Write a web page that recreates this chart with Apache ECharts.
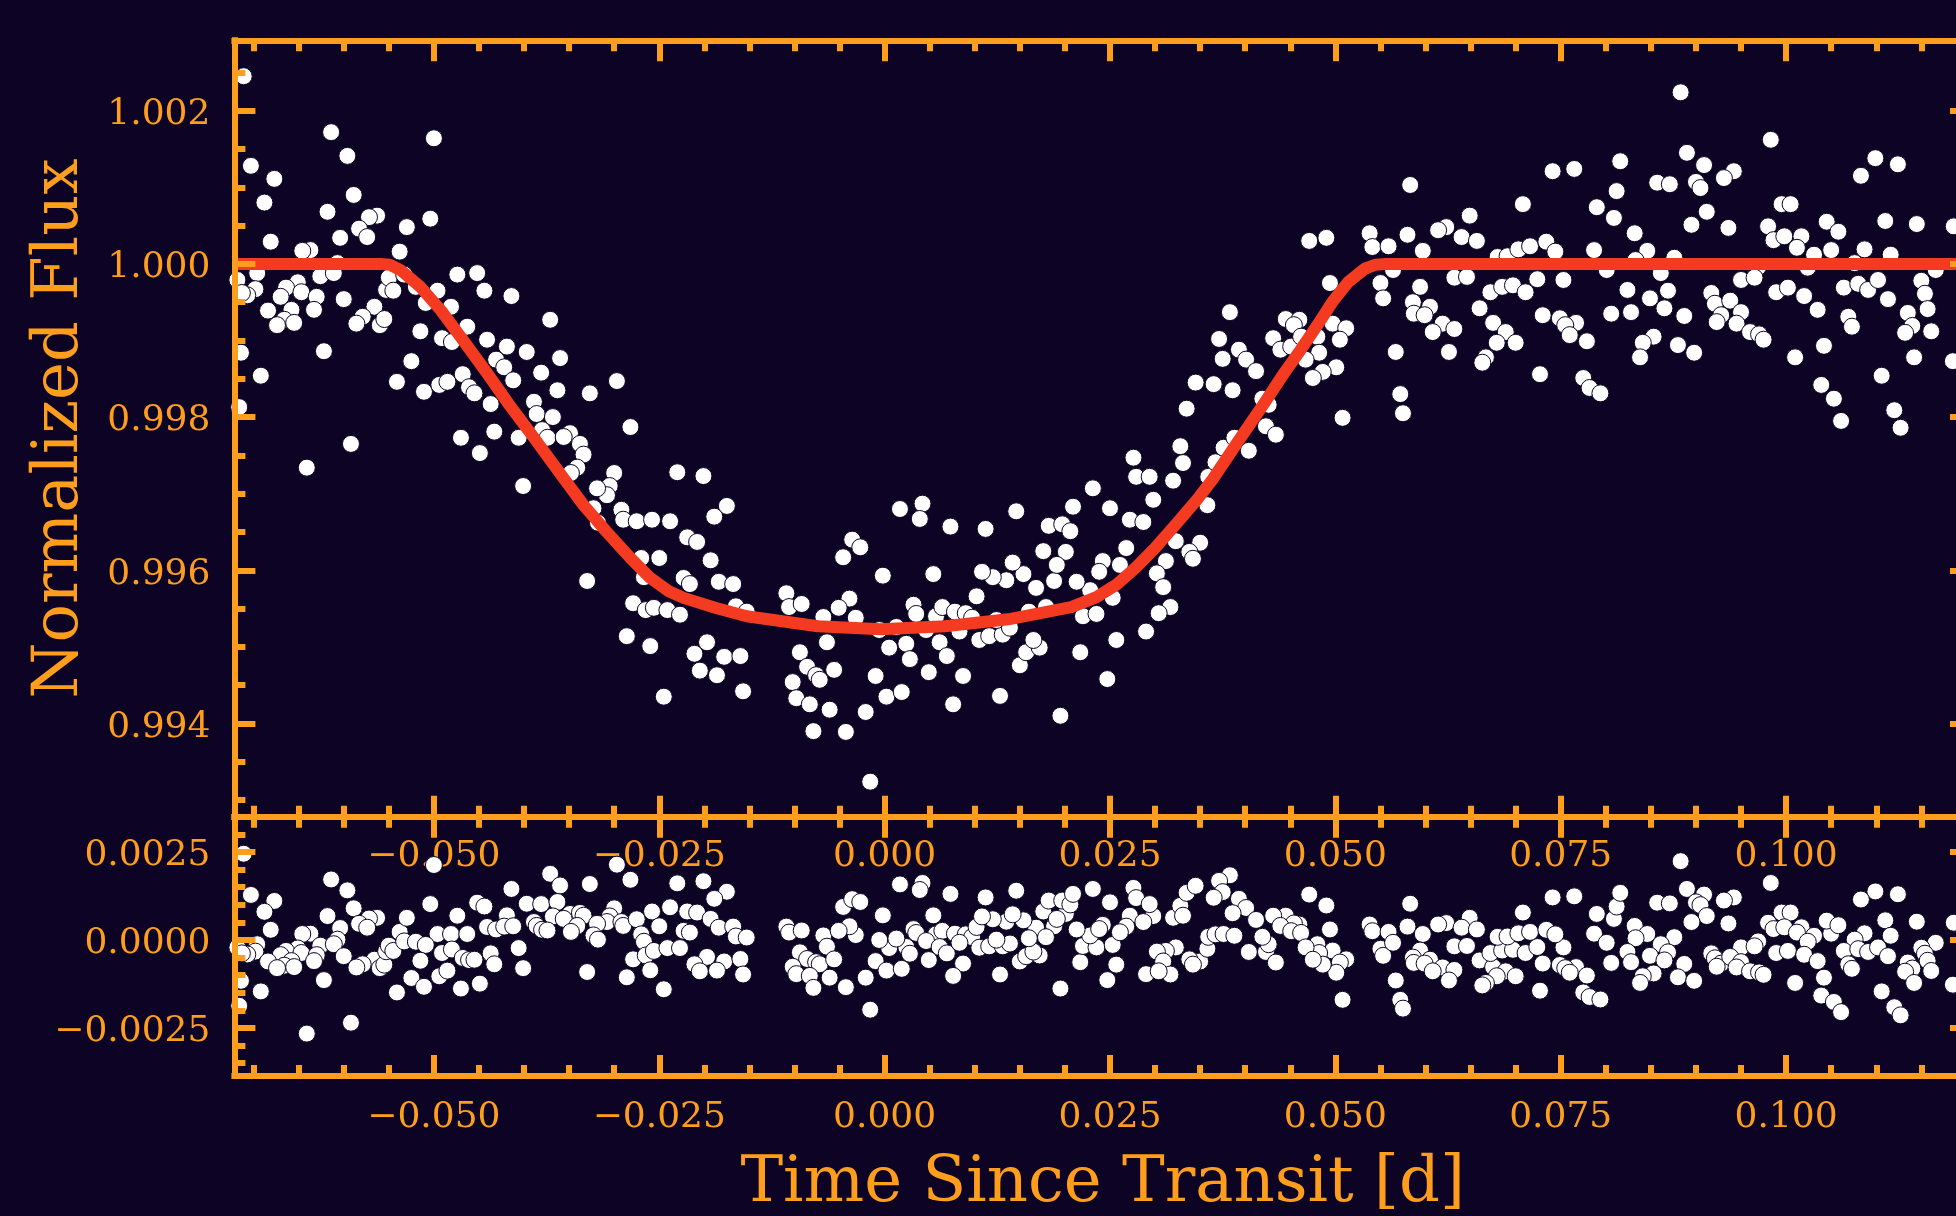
<!DOCTYPE html>
<html><head><meta charset="utf-8">
<style>html,body{margin:0;padding:0;background:#0d0425;overflow:hidden}#c{width:1956px;height:1216px}</style>
<script src="https://cdn.jsdelivr.net/npm/echarts@6/dist/echarts.min.js"></script>
</head><body><div id="c"></div>
<script>
const times=[-.0711,-.0703,-.0677,-.0688,-.0681,-.0614,-.0596,-.0589,-.0618,-.0563,-.0572,-.0583,-.0574,-.0604,-.0637,-.0646,-.0607,-.0696,-.0718,-.0698,-.0707,-.0713,-.0651,-.0664,-.0670,-.0647,-.0626,-.0611,-.0630,-.0633,-.0600,-.0684,-.0658,-.0666,-.0674,-.0655,-.0566,-.0579,-.0586,-.0714,-.0692,-.0622,-.0716,-.0592,-.0641,-.0560,
-.0555,-.0553,-.0550,-.0545,-.0538,-.0533,-.0530,-.0520,-.0504,-.0500,-.0496,-.0474,-.0452,-.0444,-.0414,-.0509,-.0481,-.0463,-.0515,-.0491,-.0480,-.0371,-.0441,-.0419,-.0397,-.0360,-.0431,-.0422,-.0412,-.0381,-.0363,-.0525,-.0541,-.0511,-.0494,-.0485,-.0468,-.0461,-.0455,-.0437,-.0327,-.0297,-.0389,-.0386,-.0368,-.0282,-.0470,-.0433,-.0406,-.0449,-.0380,-.0374,-.0349,-.0356,-.0338,-.0334,-.0341,-.0348,-.0401,-.0300,-.0305,-.0308,-.0319,-.0323,-.0318,-.0292,-.0290,-.0275,-.0258,-.0270,-.0250,-.0267,-.0330,-.0279,-.0265,-.0256,-.0286,-.0260,
-.0230,-.0201,-.0175,-.0189,-.0238,-.0219,-.0208,-.0193,-.0223,-.0216,-.0184,-.0168,-.0241,-.0227,-.0165,-.0153,-.0197,-.0211,-.0178,-.0160,-.0205,-.0186,-.0245,-.0157,-.0109,-.0106,-.0092,-.0068,-.0032,-.0064,-.0094,-.0086,-.0076,-.0072,-.0056,-.0102,-.0098,-.0083,-.0061,-.0079,-.0043,-.0021,-.0016,-.0046,-.0036,-.0027,-.0039,-.0051,-.0002,.0017,.0042,.0039,.0073,.0054,.0112,.0146,-.0010,.0002,.0019,.0005,.0024,.0028,-.0006,.0013,.0032,.0035,.0057,.0064,.0078,.0090,.0097,.0102,.0046,.0061,.0069,.0049,.0087,.0076,.0083,.0105,.0116,.0131,.0139,.0124,.0128,.0150,.0157,.0172,.0165,.0195,.0217,.0247,.0257,.0290,.0220,.0235,.0253,.0228,.0213,.0188,.0168,.0160,.0179,.0135,.0120,.0108,.0154,.0142,.0176,.0201,.0191,.0182,.0197,.0206,.0209,.0250,.0231,.0298,.0276,.0279,.0294,.0320,.0272,.0287,.0268,.0242,.0238,.0261,.0323,.0350,.0338,.0342,.0312,.0302,.0309,.0317,.0304,.0328,.0331,.0358,.0359,.0367,.0376,.0388,.0404,.0335,.0423,.0434,.0426,.0383,.0371,.0375,.0393,.0401,.0412,.0345,.0365,.0386,.0419,.0445,.0460,.0454,.0431,.0439,.0451,.0462,.0471,.0490,.0494,.0497,.0512,.0480,.0505,.0482,.0467,.0501,.0486,.0475,.0508,
.0538,.0541,.0559,.0580,.0597,.0583,.0550,.0553,.0564,.0567,.0572,.0575,.0594,.0586,.0605,.0587,.0599,.0619,.0632,.0608,.0626,.0623,.0614,.0649,.0640,.0657,.0632,.0646,.0660,.0675,.0689,.0700,.0679,.0667,.0663,.0672,.0685,.0697,.0711,.0724,.0753,.0680,.0691,.0703,.0716,.0734,.0744,.0708,.0741,.0765,.0787,.0790,.0809,.0812,.0816,.0832,.0846,.0833,.0876,.0801,.0861,.0730,.0749,.0767,.0755,.0760,.0779,.0727,.0775,.0782,.0794,.0824,.0849,.0869,.0865,.0887,.0828,.0806,.0853,.0841,.0838,.0880,.0898,.0883,.0890,.0909,.0942,.0931,.0857,.0871,.0900,.0905,.0912,.0895,.0936,.0983,.0995,.1005,.0980,.0986,.0998,.1017,.1012,.1031,.1050,.1045,.1058,.1110,.1145,.1186,.1087,.1116,.1099,.1124,.1083,.0969,.1024,.1076,.1166,.0950,.0965,.0989,.1002,.1020,.1035,.0917,.0921,.0928,.0938,.0950,.0945,.0923,.0960,.0970,.0975,.1010,.1042,.1064,.1080,.1091,.1102,.1113,.1069,.1073,.1150,.1154,.1157,.1135,.1140,.1132,.1161,.1142,.1185,.1106,.1039,.1053,.1120,.1061,.1127];
const flux=[1.00245,1.00128,1.00111,1.0008,1.00029,1.00172,1.00141,1.0009,1.00068,1.00063,1.00061,1.00046,1.00035,1.00034,1.00018,1.00017,1.00001,.99988,.99979,.99967,.99959,.99962,.99976,.99969,.99957,.99963,.99984,.99988,.99957,.9994,.99954,.99939,.9994,.99927,.9992,.99923,.99944,.99931,.99922,.99884,.99854,.99886,.99813,.99765,.99734,.9992,
.99928,.99966,.99982,.99965,1.00016,.99986,1.00048,.9997,1.00059,1.00164,.99965,.99986,.99988,.99965,.99958,.99949,.99944,.99918,.99912,.99903,.99898,.99927,.99901,.99892,.99885,.99877,.99875,.99865,.99848,.99858,.99835,.99873,.99846,.99833,.99842,.99846,.99856,.99839,.99831,.99817,.99831,.99847,.9982,.99804,.998,.99787,.99773,.99781,.99773,.99753,.99783,.99773,.99779,.99774,.99765,.99751,.99734,.99727,.9971,.99727,.9971,.99698,.99707,.99681,.99662,.99679,.99666,.99664,.99666,.99616,.99616,.99591,.99586,.99557,.99548,.99551,.99514,.99501,
.99728,.99723,.99684,.9967,.99664,.99643,.99637,.99613,.9959,.99582,.99585,.99582,.99548,.99542,.99553,.99546,.99506,.99491,.99487,.99488,.99469,.99463,.99435,.99442,.9957,.99552,.99556,.99539,.99538,.99506,.99493,.99474,.99463,.99457,.9947,.99454,.99433,.99425,.99418,.9939,.99389,.99415,.99324,.99617,.9964,.9963,.99563,.99551,.99593,.9968,.99687,.99667,.99657,.99595,.99654,.99677,.99462,.99435,.99441,.99499,.99504,.99484,.99522,.99526,.99555,.99543,.9954,.99552,.99546,.99544,.99538,.99566,.99522,.99506,.99488,.99467,.99462,.99425,.9952,.99509,.99514,.99516,.99525,.99535,.99436,.99476,.99493,.99499,.99509,.9941,.99493,.99458,.99509,.9952,.9954,.99543,.99564,.99574,.99585,.99586,.99577,.99546,.99552,.99587,.99591,.99598,.99595,.9961,.99625,.99624,.99607,.99658,.9966,.99651,.99683,.99681,.99707,.99692,.99747,.99722,.99722,.99717,.99666,.99663,.99629,.99612,.99598,.99607,.99638,.99636,.99624,.99615,.99612,.99596,.99578,.99552,.99544,.99762,.9974,.99685,.99722,.99741,.9976,.99773,.99756,.99811,.99788,.99777,.99816,.99937,.99902,.99876,.99888,.99875,.9986,.99845,.99843,.99835,.99824,.99928,.99927,.9992,.99903,.99888,.99892,.99905,1.0003,1.00034,.99975,.99922,.99916,.99905,.99901,.99884,.99875,.99865,.99859,.99851,.99799,
1.0004,1.00022,1.00023,1.00038,1.00017,1.00103,.99975,.99955,.99992,.99885,.9983,.99805,.9997,.9995,.99944,.99935,.99933,.99922,.99915,.99911,.99885,1.00048,1.00044,1.00063,1.00035,1.0003,.99982,.99983,.99942,.99923,.99911,.99897,.99897,.99878,.99871,.99963,.9997,.99972,.99963,.9998,.99979,1.00009,1.0001,1.00019,1.00023,1.00029,1.00016,1.00078,1.00121,1.00124,1.00018,1.00074,1.0006,1.00095,1.00134,1.0004,1.00017,1.00005,1.00008,.99992,.99988,.99933,.99929,.99923,.9992,.99907,.99899,.99856,.99851,.99838,.99831,.99966,.99955,.99965,.99942,.99932,.99937,.99935,.99905,.99897,.99878,.99894,.99884,1.00224,1.00145,1.00129,1.00121,1.00112,1.00106,1.00104,1.00107,1.00099,1.00068,1.00051,1.00047,1.00162,1.00078,1.00078,1.00049,1.00031,1.00036,1.00036,1.00021,1.00012,1.00018,1.00055,1.00042,1.00056,1.00052,1.00049,1.00019,1.00012,1.00138,1.0013,1.00115,.99996,.99995,1.00001,.99992,.99979,.99982,.99963,.99969,.99958,.9994,.99962,.99948,.99933,.99952,.99937,.99922,.99924,.99911,.99908,.99901,.99878,.99893,.99969,.99974,.99966,.99979,.99954,.99931,.99918,.99978,.99961,.99941,.99936,.99919,.9991,.99912,.99878,.99873,.99854,.99842,.99824,.99809,.99795,.99786];
const residual=[.00245,.00128,.00111,.0008,.00029,.00172,.00141,.0009,.00068,.00063,.00061,.00046,.00035,.00034,.00018,.00017,.00001,-.00012,-.00021,-.00033,-.00041,-.00038,-.00024,-.00031,-.00043,-.00037,-.00016,-.00012,-.00043,-.0006,-.00046,-.00061,-.0006,-.00073,-.0008,-.00077,-.00056,-.00069,-.00078,-.00116,-.00146,-.00114,-.00187,-.00235,-.00266,-.0008,
-.0007,-.00032,-.00016,-.00031,.00023,-.00004,.00063,-.00005,.00102,.00213,.00017,.00069,.00106,.00095,.00145,-.00014,.00017,.00017,-.00059,-.00037,-.00027,.00188,.00037,.0007,.00103,.00155,.0003,.00038,.00039,.00102,.00108,-.00108,-.00149,-.00133,-.00103,-.00087,-.00051,-.00057,-.00056,-.00038,.00159,.00214,.00051,.0004,.00067,.00171,-.00138,-.00069,-.00023,-.00124,.00029,.00027,.00074,.0006,.00077,.00069,.0004,.00023,-.0008,.0009,.00067,.00051,.00046,.00013,.00001,.00051,.0004,.00059,.00081,.00016,.00039,-.00005,-.00091,-.00055,-.00044,-.00031,-.00106,-.00086,
.00161,.00167,.00137,.00117,.00093,.00081,.00078,.0006,.00026,.00021,.00035,.00038,-.00023,-.00023,.0001,.00007,-.00048,-.00069,-.00061,-.00054,-.00089,-.00087,-.0014,-.00098,.00038,.00021,.00027,.00013,.00014,-.00019,-.00035,-.00054,-.00063,-.00069,-.00055,-.00076,-.00097,-.00102,-.00107,-.00136,-.00134,-.00107,-.00198,.00094,.00116,.00108,.00039,.00026,.0007,.00158,.00162,.00142,.00131,.0007,.00121,.0014,-.0006,-.00087,-.00082,-.00023,-.0002,-.00039,0,.00004,.00031,.0002,.00016,.00026,.00018,.00016,.00008,.00037,-.00003,-.0002,-.00038,-.00057,-.00067,-.00102,-.00008,-.00022,-.00018,-.00018,-.0001,.00001,-.00098,-.00061,-.00046,-.00044,-.00033,-.00138,-.00063,-.00114,-.0007,-.00097,-.00017,-.00021,-.00014,.00013,.0003,.00039,.00035,.00005,.00008,.00052,.00059,.00067,.00056,.00073,.00081,.00074,.0006,.00112,.00112,.00101,.00131,.00107,.00145,.00068,.00148,.00119,.00102,.00063,.00069,.00051,.00038,.00043,.00031,.00022,-.00021,-.00061,-.00055,-.0007,-.00031,-.00033,-.00061,-.00098,-.00089,.00097,.00069,-.00025,.00009,.00016,.00017,.00012,-.00034,.00134,-.00034,-.00064,-.00012,.00184,.00168,.00136,.00117,.00091,.00057,.00154,.0012,.00076,.00009,.00069,.00044,.00047,.00069,.0004,.00025,.0002,.00129,.00098,.0003,-.0003,-.00055,-.00012,-.00064,-.00037,-.00021,-.00093,-.0007,-.00056,-.0017,
.00044,.00025,.00023,.00038,.00017,.00103,-.00025,-.00045,-.00008,-.00115,-.0017,-.00195,-.0003,-.0005,-.00056,-.00065,-.00067,-.00078,-.00085,-.00089,-.00115,.00048,.00044,.00063,.00035,.0003,-.00018,-.00017,-.00058,-.00077,-.00089,-.00103,-.00103,-.00122,-.00129,-.00037,-.0003,-.00028,-.00037,-.0002,-.00021,.00009,.0001,.00019,.00023,.00029,.00016,.00078,.00121,.00124,.00018,.00074,.0006,.00095,.00134,.0004,.00017,.00005,.00008,-.00008,-.00012,-.00067,-.00071,-.00077,-.0008,-.00093,-.00101,-.00144,-.00149,-.00162,-.00169,-.00034,-.00045,-.00035,-.00058,-.00068,-.00063,-.00065,-.00095,-.00103,-.00122,-.00106,-.00116,.00224,.00145,.00129,.00121,.00112,.00106,.00104,.00107,.00099,.00068,.00051,.00047,.00162,.00078,.00078,.00049,.00031,.00036,.00036,.00021,.00012,.00018,.00055,.00042,.00056,.00052,.00049,.00019,.00012,.00138,.0013,.00115,-.00004,-.00005,.00001,-.00008,-.00021,-.00018,-.00037,-.00031,-.00042,-.0006,-.00038,-.00052,-.00067,-.00048,-.00063,-.00078,-.00076,-.00089,-.00092,-.00099,-.00122,-.00107,-.00031,-.00026,-.00034,-.00021,-.00046,-.00069,-.00082,-.00022,-.00039,-.00059,-.00064,-.00081,-.0009,-.00088,-.00122,-.00127,-.00146,-.00158,-.00176,-.00191,-.00205,-.00214];
const modelT=[-.0721,-.0559,-.0549,-.0537,-.0515,-.0492,-.0470,-.0442,-.0417,-.0389,-.0361,-.0334,-.0309,-.0282,-.0260,-.0240,-.0223,-.0188,-.0153,-.0074,-.0004,.0067,.0137,.0207,.0235,.0258,.0279,.0300,.0323,.0347,.0364,.0393,.0421,.0444,.0461,.0480,.0497,.0514,.0533,.0545,.0556,.1205];
const modelF=[1,1,.99999,.99992,.9997,.99939,.99904,.99859,.99817,.99773,.99728,.99685,.99651,.99616,.9959,.99573,.99564,.99551,.9954,.99527,.99523,.99527,.99536,.99552,.99565,.99582,.99604,.99629,.9966,.99693,.99719,.9977,.99818,.99859,.99887,.9992,.99951,.99976,.99994,.99999,1,1];
const xMajor=[-.05,-.025,0,.025,.05,.075,.1];
const xMinor=[-.07,-.065,-.06,-.055,-.045,-.04,-.035,-.03,-.02,-.015,-.01,-.005,.005,.01,.015,.02,.03,.035,.04,.045,.055,.06,.065,.07,.08,.085,.09,.095,.105,.11,.115,.12];
const fluxMajor=[.994,.996,.998,1,1.002];
const fluxMinor=[.993,.9935,.9945,.995,.9955,.9965,.997,.9975,.9985,.999,.9995,1.0005,1.001,1.0015,1.0025];
const resMajor=[-.0025,0,.0025];
const resMinor=[-.0035,-.003,-.002,-.0015,-.001,-.0005,.0005,.001,.0015,.002,.003];
const ORANGE='#ff9e1c',BG='#0d0425',RED='#f43b21',FONT='"DejaVu Serif"';
const XR=[-.07213,.12051],Y0=[.992783,1.002919],Y1=[-.003864,.003503];
const fmt=(d)=>(v)=>(v<0?'\u2212':'')+Math.abs(v).toFixed(d);
function tickAxis(common,vals,len,line){return Object.assign({},common,{type:'value',z:6,
  axisLine:{show:line,onZero:false,lineStyle:{color:ORANGE,width:6,cap:'square'}},
  axisTick:{show:true,inside:true,length:len,customValues:vals,lineStyle:{color:ORANGE,width:6}},
  axisLabel:{show:false},splitLine:{show:false},minorTick:{show:false}});}
function labelAxis(common,vals,dec,margin,name,gap,extra){return Object.assign({},common,{type:'value',z:0,
  axisLine:{show:false,onZero:false},axisTick:{show:false},splitLine:{show:false},
  name:name||'',nameLocation:'middle',nameGap:gap||0,
  nameTextStyle:{color:ORANGE,fontFamily:FONT,fontSize:64},
  axisLabel:Object.assign({show:true,customValues:vals,margin:margin,color:ORANGE,fontFamily:FONT,fontSize:36,formatter:fmt(dec),hideOverlap:false},extra||{})});}
const xAxes=[],yAxes=[];
function panel(g,yr,yMajor,yMinor,dec,xName,yName,xMargin){
  const xb={gridIndex:g,position:'bottom',min:XR[0],max:XR[1]},xt={gridIndex:g,position:'top',min:XR[0],max:XR[1]};
  const yl={gridIndex:g,position:'left',min:yr[0],max:yr[1]},yr2={gridIndex:g,position:'right',min:yr[0],max:yr[1]};
  xAxes.push(labelAxis(xb,xMajor,3,xMargin,xName,76),tickAxis(xb,xMajor,21,true),tickAxis(xb,xMinor,11,false),tickAxis(xt,xMajor,21,true),tickAxis(xt,xMinor,11,false));
  yAxes.push(labelAxis(yl,yMajor,dec,24,yName,142,{verticalAlign:'top',lineHeight:8}),tickAxis(yl,yMajor,21,true),tickAxis(yl,yMinor,11,false),tickAxis(yr2,yMajor,21,true),tickAxis(yr2,yMinor,11,false));
}
panel(0,Y0,fluxMajor,fluxMinor,3,'','Normalized Flux',22);
panel(1,Y1,resMajor,resMinor,4,'Time Since Transit [d]','',24);
const dot={symbol:'circle',symbolSize:17,itemStyle:{color:'#ffffff',opacity:1,borderColor:BG,borderWidth:1},z:2,silent:true};
echarts.init(document.getElementById('c'),null,{renderer:'canvas'}).setOption({
  backgroundColor:BG,animation:false,
  grid:[{left:234.4,top:40.3,width:1736.6,height:776.4,outerBoundsMode:'none'},{left:234.4,top:816.7,width:1736.6,height:259.3,outerBoundsMode:'none'}],
  xAxis:xAxes,yAxis:yAxes,
  series:[
    Object.assign({type:'scatter',name:'Data',xAxisIndex:0,yAxisIndex:0,data:times.map((t,i)=>[t,flux[i]])},dot),
    {type:'line',name:'Model',xAxisIndex:0,yAxisIndex:0,data:modelT.map((t,i)=>[t,modelF[i]]),showSymbol:false,smooth:false,z:4,lineStyle:{color:RED,width:12,join:'round'}},
    Object.assign({type:'scatter',name:'Residuals',xAxisIndex:5,yAxisIndex:5,data:times.map((t,i)=>[t,residual[i]])},dot)
  ]
});
</script></body></html>
